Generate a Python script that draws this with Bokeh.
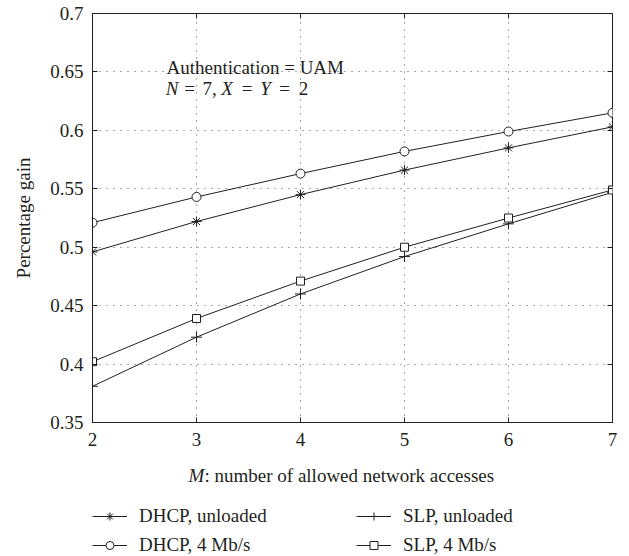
from bokeh.plotting import figure
from bokeh.layouts import column
from bokeh.models import Range1d, FixedTicker, LinearAxis, Label, Legend, LegendItem
from bokeh.embed import file_html
from bokeh.resources import INLINE

# ---- data ----
m_values = [2, 3, 4, 5, 6, 7]
dhcp_unloaded = [0.496, 0.522, 0.545, 0.566, 0.585, 0.603]
dhcp_4mbps = [0.521, 0.543, 0.563, 0.582, 0.599, 0.615]
slp_unloaded = [0.381, 0.423, 0.460, 0.492, 0.520, 0.547]
slp_4mbps = [0.402, 0.439, 0.471, 0.500, 0.525, 0.549]
series_labels = ["DHCP, unloaded", "DHCP, 4 Mb/s", "SLP, unloaded", "SLP, 4 Mb/s"]
x_ticks = [2, 3, 4, 5, 6, 7]
y_ticks = [0.35, 0.4, 0.45, 0.5, 0.55, 0.6, 0.65, 0.7]
y_tick_labels = ["0.35", "0.4", "0.45", "0.5", "0.55", "0.6", "0.65", "0.7"]

FONT = "Liberation Serif"
TXT = "#231f20"
FS = "19px"
INK = "#231f20"

# ---------------- main chart ----------------
p = figure(width=629, height=455, output_backend="svg", toolbar_location=None,
           x_range=Range1d(2, 7), y_range=Range1d(0.35, 0.7),
           min_border_left=92, min_border_right=17, min_border_top=13,
           min_border_bottom=33)
p.outline_line_color = INK
p.outline_line_width = 1

for ax in (p.xaxis[0], p.yaxis[0]):
    ax.major_tick_in = 5
    ax.major_tick_out = 0
    ax.minor_tick_line_color = None
    ax.axis_line_color = INK
    ax.major_tick_line_color = INK
    ax.major_label_text_font = FONT
    ax.major_label_text_font_size = FS
    ax.major_label_text_color = TXT
    ax.axis_label_text_font = FONT
    ax.axis_label_text_font_size = FS
    ax.axis_label_text_color = TXT
    ax.axis_label_text_font_style = "normal"

p.xaxis[0].ticker = FixedTicker(ticks=x_ticks)
p.xaxis[0].major_label_standoff = 10
p.yaxis[0].ticker = FixedTicker(ticks=y_ticks)
p.yaxis[0].major_label_overrides = {t: l for t, l in zip(y_ticks, y_tick_labels)}
p.yaxis[0].major_label_standoff = 9
p.yaxis[0].axis_label = "Percentage gain"
p.yaxis[0].axis_label_standoff = 13

# mirror ticks on top and right (no labels)
top = LinearAxis(ticker=FixedTicker(ticks=x_ticks))
right = LinearAxis(ticker=FixedTicker(ticks=y_ticks))
for ax in (top, right):
    ax.major_tick_in = 5
    ax.major_tick_out = 0
    ax.minor_tick_line_color = None
    ax.axis_line_color = None
    ax.major_tick_line_color = INK
    ax.major_label_text_color = None
    ax.major_label_text_font_size = "1px"
    ax.major_label_standoff = 0
p.add_layout(top, "above")
p.add_layout(right, "right")

p.xgrid.ticker = FixedTicker(ticks=x_ticks)
p.ygrid.ticker = FixedTicker(ticks=y_ticks)
for g in (p.xgrid[0], p.ygrid[0]):
    g.grid_line_color = "#555555"
    g.grid_line_dash = "1 6"
    g.grid_line_width = 1

series = [dhcp_unloaded, dhcp_4mbps, slp_unloaded, slp_4mbps]
markers = ["asterisk", "circle", "cross", "square"]
sizes = [10, 9, 11, 8]
for ys, mk, sz in zip(series, markers, sizes):
    p.line(m_values, ys, line_color=INK, line_width=1)
    p.scatter(m_values, ys, marker=mk, size=sz, line_color=INK,
              fill_color="white", line_width=1)

def px2x(px):
    return 2 + (px - 92) / 104.0

def py2y(py):
    return 0.7 - (py - 13) * 0.35 / 409.0

def add_text(fig, x, y, txt, italic=False, align="left"):
    fig.add_layout(Label(x=x, y=y, text=txt, text_font=FONT,
                         text_font_size=FS, text_color=TXT,
                         text_font_style="italic" if italic else "normal",
                         text_baseline="alphabetic", text_align=align))

add_text(p, px2x(166), py2y(67), "Authentication = UAM")
for txt, cx, it in [("N", 171.5, True), ("=", 189, False), ("7,", 209, False),
                    ("X", 226.5, True), ("=", 246.5, False), ("Y", 265, True),
                    ("=", 284, False), ("2", 303, False)]:
    add_text(p, px2x(cx), py2y(88), txt, it, "center")

# ---------------- bottom strip: x-axis title and legend ----------------
# same side borders as the chart, so the frame spans page x 92..612 and the
# strip's x data units equal page pixels
b = figure(width=629, height=101, output_backend="svg", toolbar_location=None,
           x_range=Range1d(92, 612), y_range=Range1d(0, 101),
           x_axis_type=None, y_axis_type=None,
           min_border_left=92, min_border_right=17, min_border_top=0,
           min_border_bottom=0)
b.outline_line_color = None
b.grid.visible = False
b.extra_x_ranges = {"off": Range1d(100, 101)}

items = []
for ys, mk, sz, lab in zip(series, markers, sizes, series_labels):
    lr = b.line(m_values, ys, line_color=INK, line_width=1, x_range_name="off")
    sr = b.scatter(m_values, ys, marker=mk, size=sz, line_color=INK,
                   fill_color="white", line_width=1, x_range_name="off")
    items.append(LegendItem(label=lab, renderers=[lr, sr]))

def make_legend(its, x):
    return Legend(items=its, location=(x, 0), orientation="vertical",
                  padding=0, margin=0, spacing=7, glyph_width=35, glyph_height=20,
                  label_height=20, label_standoff=12, border_line_alpha=0,
                  background_fill_alpha=0, label_text_font=FONT,
                  label_text_font_size=FS, label_text_color=TXT,
                  label_text_baseline="middle")

b.add_layout(make_legend([items[0], items[1]], 0))
b.add_layout(make_legend([items[2], items[3]], 264))

# x-axis title with italic M (baseline at y=475 of the page)
add_text(b, 188, 101 - (475 - 455), "M", True)
add_text(b, 204, 101 - (475 - 455), ": number of allowed network accesses")

layout = column(p, b, spacing=0)
open("out.html", "w").write(file_html(layout, INLINE))
